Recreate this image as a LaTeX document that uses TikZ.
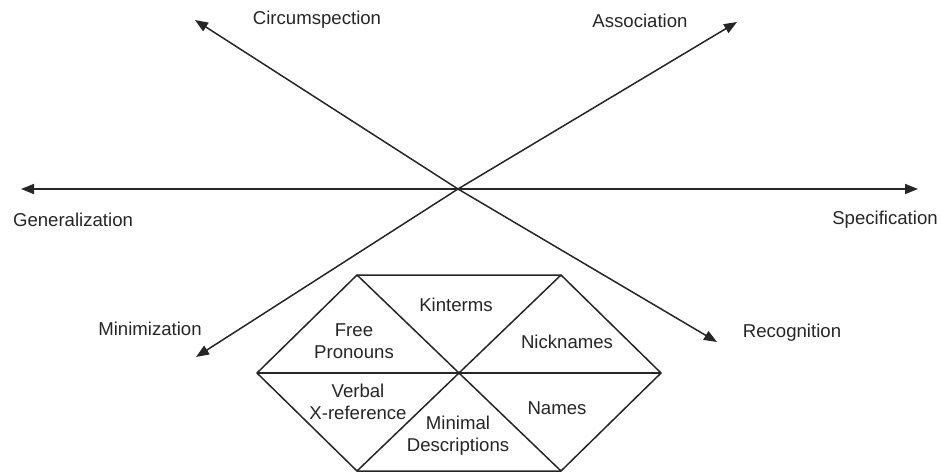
\documentclass[tikz,border=0pt]{standalone}
\usepackage{fontspec}
\setmainfont{Liberation Sans}
\usetikzlibrary{arrows.meta}
\begin{document}
\begin{tikzpicture}[x=1pt,y=-1pt,
  axis/.style={line width=1.5pt,draw=black!85,-{Triangle[length=13pt,width=10pt]}},
  hexline/.style={line width=1.5pt,draw=black!85,line join=round},
  lbl/.style={font=\fontsize{18.6}{21}\selectfont,text=black!85,inner sep=0pt,align=center},
  cell/.style={font=\fontsize{18.6}{22}\selectfont,text=black!85,inner sep=0pt,align=center}]
\useasboundingbox (0,0) rectangle (942,473);
% axes
\coordinate (c) at (458,189);
\coordinate (gen) at (21,189);
\coordinate (spec) at (918,189);
\coordinate (circ) at (195,20);
\coordinate (assoc) at (737,22);
\coordinate (mini) at (196,357);
\coordinate (reco) at (717,342);
\draw[axis] (c) -- (gen);
\draw[axis] (c) -- (spec);
\draw[axis] (c) -- (circ);
\draw[axis] (c) -- (assoc);
\draw[axis] (c) -- (mini);
\draw[axis] (c) -- (reco);
% axis labels
\node[lbl] (lcirc) at (317,20) {Circumspection};
\node[lbl] (lassoc) at (640,21) {Association};
\node[lbl] (lgen) at (73,220) {Generalization};
\node[lbl] (lspec) at (885,220) {Specification};
\node[lbl] (lmini) at (150,329) {Minimization};
\node[lbl] (lreco) at (792,333) {Recognition};
% hexagon
\coordinate (tl) at (357,275);
\coordinate (tr) at (561,275);
\coordinate (r) at (661,373);
\coordinate (br) at (561,471);
\coordinate (bl) at (357,471);
\coordinate (l) at (257,373);
\coordinate (hc) at (459,373);
\draw[hexline,fill=white] (tl) -- (tr) -- (r) -- (br) -- (bl) -- (l) -- cycle;
\draw[hexline] (l) -- (r);
\draw[hexline] (tl) -- (br);
\draw[hexline] (tr) -- (bl);
% cell labels
\node[cell] (kin) at (456,305) {Kinterms};
\node[cell] (free) at (354,341) {Free\\Pronouns};
\node[cell] (nick) at (567,342) {Nicknames};
\node[cell] (verb) at (358,402) {Verbal\\X-reference};
\node[cell] (names) at (557,408) {Names};
\node[cell] (minid) at (458,436) {Minimal\\Descriptions};
\end{tikzpicture}
\end{document}
